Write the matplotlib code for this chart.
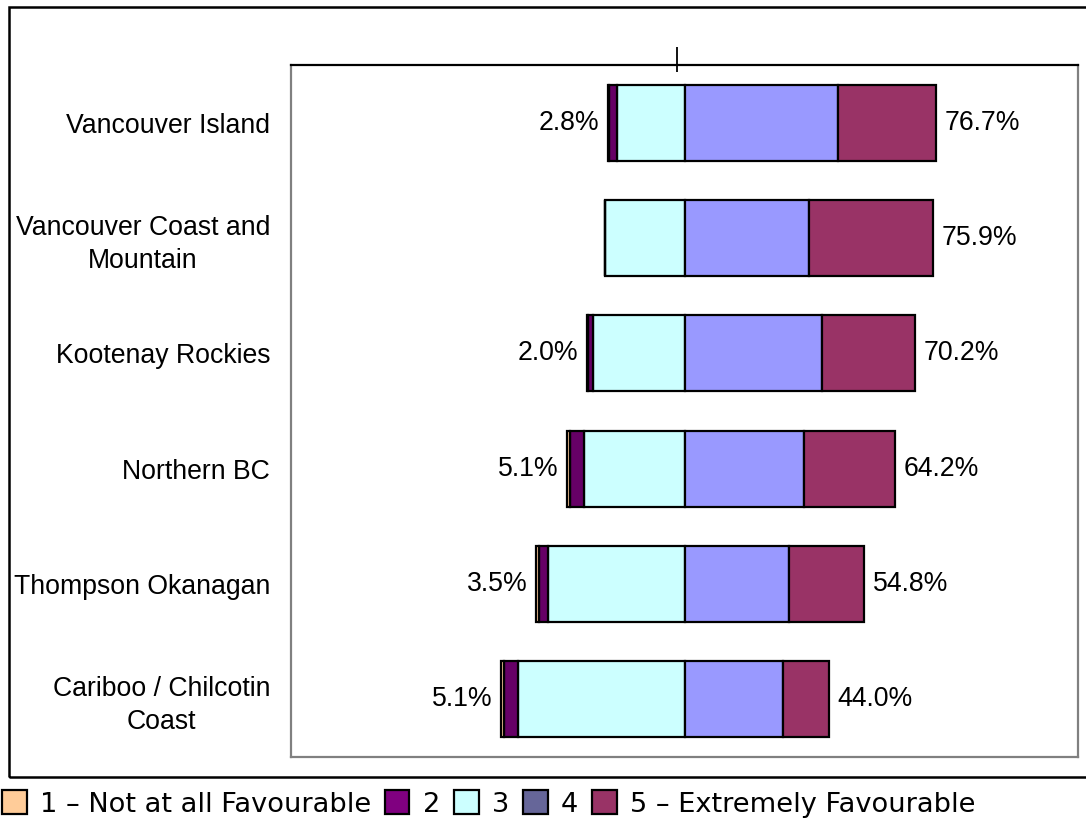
import matplotlib
matplotlib.use("Agg")
import matplotlib.pyplot as plt
from matplotlib.patches import Patch, Rectangle
import numpy as np

# ==============================
# Data (percent of respondents per rating)
# ==============================

regions = [
    "Vancouver Island",
    "Vancouver Coast and\nMountain",
    "Kootenay Rockies",
    "Northern BC",
    "Thompson Okanagan",
    "Cariboo / Chilcotin\nCoast",
]

rating_1 = np.array([0.4, 0.0, 0.3, 1.0, 0.7, 1.1])
rating_2 = np.array([2.4, 0.0, 1.7, 4.1, 2.8, 4.0])
rating_3 = np.array([20.5, 24.1, 27.8, 30.7, 41.7, 50.9])
rating_4 = np.array([46.9, 38.1, 41.8, 36.3, 32.0, 30.0])
rating_5 = np.array([29.8, 37.8, 28.4, 27.9, 22.8, 14.0])

legend_labels = ["1 \u2013 Not at all Favourable", "2", "3", "4",
                 "5 \u2013 Extremely Favourable"]

# ==============================
# Styling
# ==============================

BAR_COLORS = ["#FFCC99", "#660066", "#CCFFFF", "#9999FF", "#993366"]
LEGEND_COLORS = ["#FFCC99", "#800080", "#CCFFFF", "#666699", "#993366"]
LABEL_FONT = "Liberation Sans"
FS = 19.2

plt.rcParams["font.family"] = ["Liberation Sans", "DejaVu Sans"]

fig = plt.figure(figsize=(10.86, 8.23), dpi=100)
ax = fig.add_axes([291 / 1086, 1 - 757 / 823, (1078 - 291) / 1086, (757 - 65) / 823])

y = np.arange(len(regions))
h = 0.66
edge = dict(edgecolor="black", linewidth=1.6, height=h)

# negative side: 3, then 2, then 1 stacked leftwards from zero
ax.barh(y, -rating_3, left=0, color=BAR_COLORS[2], **edge)
ax.barh(y, -rating_2, left=-rating_3, color=BAR_COLORS[1], **edge)
ax.barh(y, -rating_1, left=-(rating_3 + rating_2), color=BAR_COLORS[0], **edge)
# positive side: 4 then 5
ax.barh(y, rating_4, left=0, color=BAR_COLORS[3], **edge)
ax.barh(y, rating_5, left=rating_4, color=BAR_COLORS[4], **edge)

# end labels
low = rating_1 + rating_2
high = rating_4 + rating_5
for i in range(len(regions)):
    left_end = -(rating_1[i] + rating_2[i] + rating_3[i])
    right_end = high[i]
    if low[i] > 0:
        ax.text(left_end - 2.6, y[i], f"{low[i]:.1f}%", ha="right", va="center",
                fontsize=FS, family=LABEL_FONT)
    ax.text(right_end + 2.6, y[i], f"{high[i]:.1f}%", ha="left", va="center",
            fontsize=FS, family=LABEL_FONT)

ax.set_xlim(-120, 120)
ax.set_ylim(len(regions) - 0.5, -0.5)

ax.set_yticks(y)
ax.set_yticklabels(regions, fontsize=FS, family=LABEL_FONT)
for t in ax.get_yticklabels():
    t.set_multialignment("center")
    t.set_linespacing(1.33)
ax.tick_params(axis="y", length=0, pad=15)

# single tick on the top axis line
ax.xaxis.set_ticks_position("top")
ax.xaxis.remove_overlapping_locs = False
ax.set_xticks([-2.4])
ax.set_xticks([-2.4], minor=True)
ax.set_xticklabels([])
ax.tick_params(axis="x", which="major", direction="out", length=13, width=1.3, color="black")
ax.tick_params(axis="x", which="minor", direction="in", length=5, width=1.3, color="black")

for side in ["left", "right", "bottom"]:
    ax.spines[side].set_color("#808080")
    ax.spines[side].set_linewidth(1.6)
ax.spines["top"].set_color("black")
ax.spines["top"].set_linewidth(1.6)

# outer chart border
fig.patches.append(Rectangle((9 / 1086, 1 - 777 / 823), 1.2, (777 - 7) / 823,
                             transform=fig.transFigure, fill=False,
                             edgecolor="black", linewidth=1.8, zorder=0))

# legend
handles = [Patch(facecolor=c, edgecolor="black", linewidth=1.6) for c in LEGEND_COLORS]
fig.legend(handles, legend_labels, ncol=5, loc="center left",
           bbox_to_anchor=(2 / 1086, 1 - 804 / 823), frameon=False,
           prop={"family": "DejaVu Sans", "size": 19.6},
           handlelength=0.9, handleheight=0.95, handletextpad=0.5,
           columnspacing=0.5, borderpad=0, borderaxespad=0)

fig.savefig("out.png", dpi=100)
